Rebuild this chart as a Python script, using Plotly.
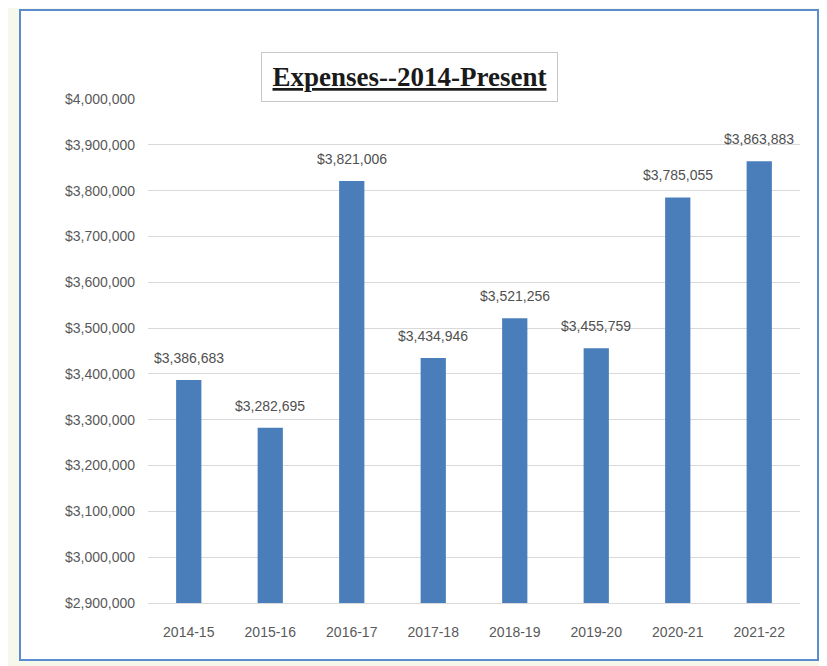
import plotly.graph_objects as go

categories = ["2014-15", "2015-16", "2016-17", "2017-18", "2018-19", "2019-20", "2020-21", "2021-22"]
expenses = [3386683, 3282695, 3821006, 3434946, 3521256, 3455759, 3785055, 3863883]
y_ticks = [2900000 + 100000 * i for i in range(12)]
y_tick_labels = ["${:,}".format(v) for v in y_ticks]
title_text = "Expenses--2014-Present"

W, H = 827, 666
OFF = 8  # page body margin offset
PW, PH = 652, 504
ML = 148 - OFF
MT = 99 - OFF
MR = W - ML - PW
MB = H - MT - PH

def px_x(p):
    return (p - OFF - ML) / PW

def px_y(p):
    return (MT + PH - (p - OFF)) / PH

fig = go.Figure(
    go.Bar(
        x=categories,
        y=expenses,
        marker=dict(color="#4a7ebb", line=dict(width=0)),
        hoverinfo="skip",
    )
)

value_labels = [
    dict(
        x=c,
        y=v,
        xref="x",
        yref="y",
        text="${:,}".format(v),
        showarrow=False,
        xanchor="center",
        yanchor="bottom",
        yshift=12,
        font=dict(family="Liberation Sans", size=14, color="#505050"),
    )
    for c, v in zip(categories, expenses)
]

fig.update_layout(
    width=W,
    height=H,
    margin=dict(l=ML, r=MR, t=MT, b=MB),
    paper_bgcolor="#f6f8ec",
    plot_bgcolor="rgba(0,0,0,0)",
    bargap=0.69,
    showlegend=False,
    font=dict(family="Liberation Sans", size=14, color="#595959"),
    xaxis=dict(
        showgrid=False,
        showline=True,
        linecolor="#d9d9d9",
        linewidth=1,
        ticks="",
        ticklabelstandoff=16,
        tickfont=dict(family="Liberation Sans", size=14, color="#595959"),
        fixedrange=True,
    ),
    yaxis=dict(
        range=[2900000, 4000000],
        tickvals=y_ticks,
        ticktext=y_tick_labels,
        showgrid=True,
        gridcolor="#d9d9d9",
        gridwidth=1,
        zeroline=False,
        showline=False,
        ticks="",
        ticklabelstandoff=12,
        tickfont=dict(family="Liberation Sans", size=14, color="#595959"),
        fixedrange=True,
    ),
    shapes=[
        dict(
            type="rect",
            xref="paper",
            yref="paper",
            x0=px_x(20),
            x1=px_x(818),
            y0=px_y(660),
            y1=px_y(10),
            fillcolor="white",
            line=dict(color="#5b8ccf", width=2),
            layer="below",
        )
    ],
    annotations=value_labels + [
        dict(
            text="<b><u>" + title_text + "</u></b>",
            xref="paper",
            yref="paper",
            x=px_x(409.5),
            y=px_y(77),
            xanchor="center",
            yanchor="middle",
            showarrow=False,
            width=291,
            height=44,
            bgcolor="white",
            bordercolor="#c8c8c8",
            borderwidth=1,
            borderpad=2,
            font=dict(family="Liberation Serif", size=27, color="#1a1a1a"),
        )
    ],
)

fig.write_html("out.html")
